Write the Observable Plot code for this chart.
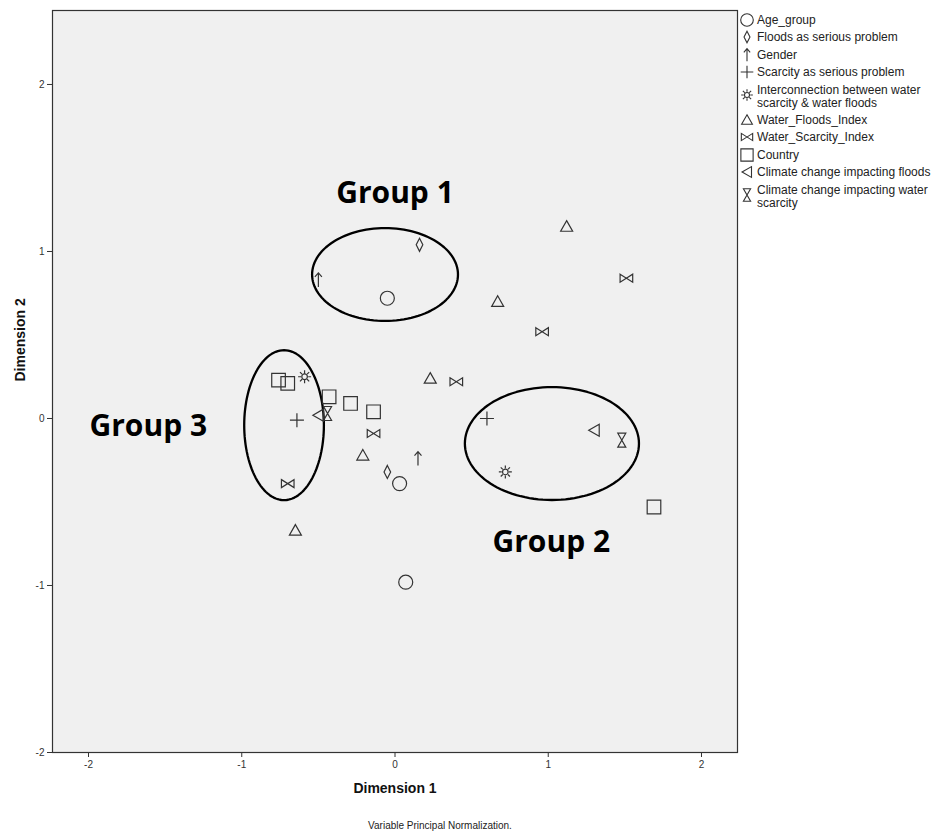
<!DOCTYPE html>
<html>
<head>
<meta charset="utf-8">
<script src="https://cdn.jsdelivr.net/npm/d3@7"></script>
<script src="https://cdn.jsdelivr.net/npm/@observablehq/plot@0.6"></script>
<style>
  body { margin: 0; background: #fff; font-family: "Liberation Sans", Arial, sans-serif; }
  #wrap { position: relative; width: 935px; }
  #legend { position: absolute; left: 0; top: 0; pointer-events: none; }
  #caption { width: 880px; text-align: center; font-size: 10px; line-height: 14px; padding-top: 14px; height: 15px; color: #222; }
</style>
</head>
<body>
<div id="wrap">
  <div id="chart"></div>
  <div id="caption">Variable Principal Normalization.</div>
</div>
<script>
// ---- data (Dimension 1, Dimension 2) ----
const variables = [
  "Age_group", "Floods as serious problem", "Gender", "Scarcity as serious problem",
  "Interconnection between water scarcity & water floods", "Water_Floods_Index",
  "Water_Scarcity_Index", "Country", "Climate change impacting floods",
  "Climate change impacting water scarcity"
];
const legendLines = [
  ["Age_group"], ["Floods as serious problem"], ["Gender"], ["Scarcity as serious problem"],
  ["Interconnection between water", "scarcity & water floods"], ["Water_Floods_Index"],
  ["Water_Scarcity_Index"], ["Country"], ["Climate change impacting floods"],
  ["Climate change impacting water", "scarcity"]
];
const ageGroup = [[-0.05, 0.72], [0.03, -0.39], [0.07, -0.98]];
const floodsProblem = [[0.16, 1.04], [-0.05, -0.32]];
const gender = [[-0.50, 0.83], [0.15, -0.24]];
const scarcityProblem = [[-0.64, -0.01], [0.60, 0.00]];
const interconnection = [[-0.59, 0.25], [0.72, -0.32]];
const floodsIndex = [[0.23, 0.24], [-0.21, -0.22], [1.12, 1.15], [0.67, 0.70], [-0.65, -0.67]];
const scarcityIndex = [[-0.14, -0.09], [-0.70, -0.39], [1.51, 0.84], [0.96, 0.52], [0.40, 0.22]];
const country = [[-0.76, 0.23], [-0.70, 0.21], [-0.43, 0.13], [-0.29, 0.09], [-0.14, 0.04], [1.69, -0.53]];
const climateFloods = [[-0.50, 0.02], [1.30, -0.07]];
const climateScarcity = [[-0.44, 0.03], [1.48, -0.13]];
const seriesValues = [ageGroup, floodsProblem, gender, scarcityProblem, interconnection,
  floodsIndex, scarcityIndex, country, climateFloods, climateScarcity];

const xTicks = [-2, -1, 0, 1, 2];
const yTicks = [-2, -1, 0, 1, 2];

const groupNames = ["Group 1", "Group 2", "Group 3"];
const groupLabelPos = [[0.0, 1.35], [1.02, -0.74], [-1.61, -0.05]];
const ellipseCenters = [[-0.065, 0.862], [1.024, -0.15], [-0.724, -0.04]];
const ellipseRadii = [[0.476, 0.278], [0.568, 0.338], [0.26, 0.449]];

// ---- custom symbols (SPSS style) ----
const mk = fn => ({draw(ctx, size) { const s = Math.sqrt(size / Math.PI) / 7; fn(ctx, s); }});
const symCircle = mk((c, s) => { c.moveTo(7 * s, 0); c.arc(0, 0, 7 * s, 0, 2 * Math.PI); });
const symDiamond = mk((c, s) => { c.moveTo(0, -6.5 * s); c.lineTo(3.3 * s, 0); c.lineTo(0, 6.5 * s); c.lineTo(-3.3 * s, 0); c.closePath(); });
const symArrow = mk((c, s) => { c.moveTo(0, 7 * s); c.lineTo(0, -7 * s); c.moveTo(-3.5 * s, -3 * s); c.lineTo(0, -7 * s); c.lineTo(3.5 * s, -3 * s); });
const symPlus = mk((c, s) => { c.moveTo(-7 * s, 0); c.lineTo(7 * s, 0); c.moveTo(0, -7 * s); c.lineTo(0, 7 * s); });
const symSun = mk((c, s) => {
  c.moveTo(2.8 * s, 0); c.arc(0, 0, 2.8 * s, 0, 2 * Math.PI);
  for (let i = 0; i < 8; i++) { const a = i * Math.PI / 4; c.moveTo(3.6 * s * Math.cos(a), 3.6 * s * Math.sin(a)); c.lineTo(6.5 * s * Math.cos(a), 6.5 * s * Math.sin(a)); }
});
const symTriangle = mk((c, s) => { c.moveTo(0, -5.8 * s); c.lineTo(6 * s, 4.8 * s); c.lineTo(-6 * s, 4.8 * s); c.closePath(); });
const symBowtie = mk((c, s) => { c.moveTo(-6.3 * s, -4 * s); c.lineTo(6.3 * s, 4 * s); c.lineTo(6.3 * s, -4 * s); c.lineTo(-6.3 * s, 4 * s); c.closePath(); });
const symSquare = mk((c, s) => { c.rect(-6.8 * s, -6.8 * s, 13.6 * s, 13.6 * s); });
const symLeftTri = mk((c, s) => { c.moveTo(-5.5 * s, 0); c.lineTo(5 * s, -6 * s); c.lineTo(5 * s, 6 * s); c.closePath(); });
const symHourglass = mk((c, s) => { c.moveTo(-4 * s, -7 * s); c.lineTo(4 * s, -7 * s); c.lineTo(-4 * s, 7 * s); c.lineTo(4 * s, 7 * s); c.closePath(); });
const symbols = [symCircle, symDiamond, symArrow, symPlus, symSun, symTriangle, symBowtie, symSquare, symLeftTri, symHourglass];

// ---- build tables ----
const points = seriesValues.flatMap((arr, i) => arr.map(([x, y]) => ({variable: variables[i], x, y})));
const ellipsePts = groupNames.flatMap((g, i) => d3.range(0, 121).map(k => {
  const t = k / 120 * 2 * Math.PI;
  return {g, x: ellipseCenters[i][0] + ellipseRadii[i][0] * Math.cos(t), y: ellipseCenters[i][1] + ellipseRadii[i][1] * Math.sin(t)};
}));
const labels = groupNames.map((g, i) => ({g, x: groupLabelPos[i][0], y: groupLabelPos[i][1]}));

const ink = "#333";
const chart = Plot.plot({
  width: 935,
  height: 805,
  marginLeft: 52,
  marginRight: 198,
  marginTop: 10,
  marginBottom: 53,
  style: {fontFamily: "'Liberation Sans', Arial, sans-serif", background: "white"},
  x: {domain: [-2.235, 2.235]},
  y: {domain: [-2, 2.443]},
  marks: [
    Plot.frame({fill: "#f0f0f0", stroke: null}),
    Plot.axisX({ticks: xTicks, tickFormat: d => String(d), tickSize: 5, tickPadding: 3, fontSize: 10, label: null, color: ink}),
    Plot.axisY({ticks: yTicks, tickFormat: d => String(d), tickSize: 5, tickPadding: 3, fontSize: 10, label: null, color: ink}),
    Plot.line(ellipsePts, {x: "x", y: "y", z: "g", stroke: "#000", strokeWidth: 2.3}),
    ...variables.map((v, i) => Plot.dot(points.filter(p => p.variable === v), {
      x: "x", y: "y", r: 7, symbol: symbols[i], fill: "none", stroke: ink, strokeWidth: 1.2
    })),
    Plot.text(labels, {x: "x", y: "y", text: "g", fontSize: 30, fontWeight: "bold",
      fontFamily: "'Open Sans', sans-serif", fill: "#000", textAnchor: "middle", lineAnchor: "middle"}),
    Plot.text(["Dimension 1"], {frameAnchor: "bottom", dy: 40, fontSize: 14, fontWeight: "bold", fill: "#111"}),
    Plot.text(["Dimension 2"], {frameAnchor: "left", dx: -32, rotate: -90, fontSize: 14, fontWeight: "bold", fill: "#111"}),
    Plot.frame({stroke: ink, strokeWidth: 1.2})
  ]
});
document.getElementById("chart").appendChild(chart);

// ---- legend ----
const lsvg = d3.select("#wrap").append("svg").attr("id", "legend").attr("width", 935).attr("height", 230);
const rowsY = [20, 37, 55, 72, 90, 120, 137, 155, 172, 190];
legendLines.forEach((lines, i) => {
  const y0 = rowsY[i];
  const symY = lines.length > 1 ? y0 + 5 : y0;
  lsvg.append("path")
    .attr("transform", `translate(747,${symY})`)
    .attr("d", d3.symbol(symbols[i], Math.PI * 6.3 * 6.3)())
    .attr("fill", "none").attr("stroke", ink).attr("stroke-width", 1.1);
  lines.forEach((t, j) => {
    lsvg.append("text").attr("x", 757).attr("y", y0 + j * 12.5).attr("dy", "0.35em")
      .attr("font-family", "'Liberation Sans', Arial, sans-serif").attr("font-size", 12)
      .attr("fill", "#222").text(t);
  });
});
</script>
</body>
</html>
